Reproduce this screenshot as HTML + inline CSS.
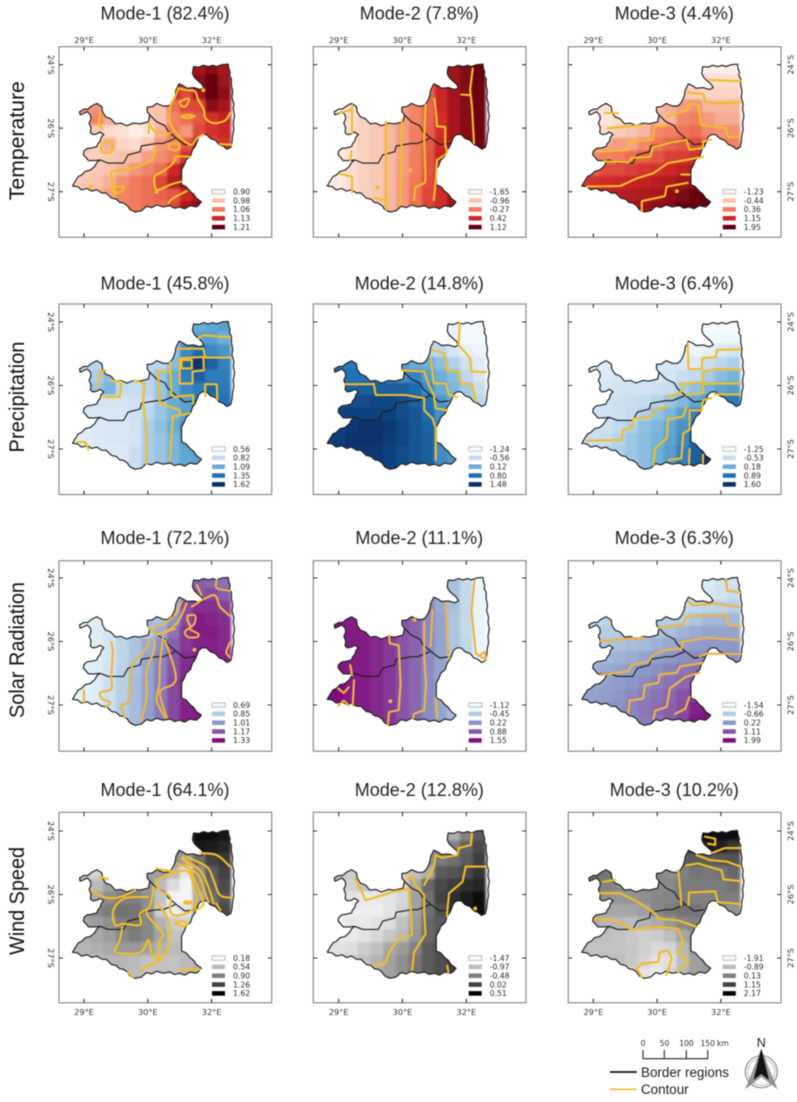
<!DOCTYPE html>
<html lang="en">
<head>
<meta charset="utf-8">
<title>EOF modes of temperature, precipitation, solar radiation and wind speed</title>
<style>
html,body{margin:0;padding:0;background:#fff;width:797px;height:1102px;overflow:hidden}
svg{display:block;filter:blur(0.4px)}
text{font-family:"Liberation Sans",sans-serif;fill:#1c1c1c}
.tick,.leg{font-family:"DejaVu Sans","Liberation Sans",sans-serif}
.tick{font-size:8.2px;fill:#333}
.leg{font-size:7.7px;fill:#2c2c2c}
.title{font-size:18px;text-anchor:middle;fill:#222}
.rowlab{font-size:21px;text-anchor:middle;fill:#111}
</style>
</head>
<body>
<svg id="chart" xmlns="http://www.w3.org/2000/svg" width="797" height="1102" viewBox="0 0 797 1102">
<defs>
<filter id="soft" x="-10%" y="-10%" width="120%" height="120%"><feGaussianBlur stdDeviation="1.3"/></filter>
</defs>
<g id="maps"></g>
<g>
<path d="M643 1050V1058.7H707.7V1050M664.3 1050V1058.7M686.3 1050V1058.7" fill="none" stroke="#222" stroke-width="1.1"/>
<text class="leg" x="643" y="1046" text-anchor="middle" style="font-size:7.6px">0</text>
<text class="leg" x="664.5" y="1046" text-anchor="middle" style="font-size:7.6px">50</text>
<text class="leg" x="686.5" y="1046" text-anchor="middle" style="font-size:7.6px">100</text>
<text class="leg" x="707.7" y="1046" text-anchor="middle" style="font-size:7.6px">150</text>
<text class="leg" x="717" y="1046" style="font-size:7.6px">km</text>
</g>
<g>
<line x1="610" x2="636.7" y1="1072" y2="1072" stroke="#111" stroke-width="1.7"/>
<text x="641" y="1077" style="font-size:13.4px" textLength="88" lengthAdjust="spacingAndGlyphs">Border  regions</text>
<line x1="610" x2="636.7" y1="1089.3" y2="1089.3" stroke="#f0bd2b" stroke-width="1.7"/>
<text x="641" y="1094" style="font-size:13.4px">Contour</text>
</g>
<g>
<circle cx="761.3" cy="1071.7" r="16" fill="none" stroke="#8a8a8a" stroke-width="1.2"/>
<circle cx="761.3" cy="1071.7" r="13.5" fill="none" stroke="#bbb" stroke-width="1"/>
<polygon points="761.3,1049 745,1089.5 761.3,1077 777.7,1089.5" fill="#777" opacity=".75"/>
<polygon points="761.3,1048.5 753.5,1080 761.3,1074 769,1080" fill="#111"/>
<text x="761.3" y="1047" text-anchor="middle" style="font-size:12.5px" fill="#111">N</text>
</g>
</svg>
<script>
/* Categories and tick labels */
const rowNames = ['Temperature', 'Precipitation', 'Solar Radiation', 'Wind Speed'];
const modeNames = ['Mode-1', 'Mode-2', 'Mode-3'];
const lonTicks = [29, 30, 31];
const lonTickLabels = ['29°E', '30°E', '32°E'];
const latTicks = [24, 25, 26];
const latTickLabels = ['24°S', '26°S', '27°S'];

/* Explained variance per mode */
const temperatureVariance = [82.4, 7.8, 4.4];
const precipitationVariance = [45.8, 14.8, 6.4];
const solarVariance = [72.1, 11.1, 6.3];
const windVariance = [64.1, 12.8, 10.2];

/* Legend class values */
const tempMode1Legend = [0.90, 0.98, 1.06, 1.13, 1.21];
const tempMode2Legend = [-1.65, -0.96, -0.27, 0.42, 1.12];
const tempMode3Legend = [-1.23, -0.44, 0.36, 1.15, 1.95];
const precMode1Legend = [0.56, 0.82, 1.09, 1.35, 1.62];
const precMode2Legend = [-1.24, -0.56, 0.12, 0.80, 1.48];
const precMode3Legend = [-1.25, -0.53, 0.18, 0.89, 1.60];
const solarMode1Legend = [0.69, 0.85, 1.01, 1.17, 1.33];
const solarMode2Legend = [-1.12, -0.45, 0.22, 0.88, 1.55];
const solarMode3Legend = [-1.54, -0.66, 0.22, 1.11, 1.99];
const windMode1Legend = [0.18, 0.54, 0.90, 1.26, 1.62];
const windMode2Legend = [-1.47, -0.97, -0.48, 0.02, 0.51];
const windMode3Legend = [-1.91, -0.89, 0.13, 1.15, 2.17];

/* Grid definition (degrees) */
const gridLonStart = 28.7;
const gridLatStart = 23.95;
const gridStep = 0.2;

/* Heatmap values: 12 latitude rows by 13 longitude columns */
const tempMode1Cells = [
[1.10,1.10,1.10,1.10,1.10,1.10,1.10,1.10,1.14,1.14,1.16,1.18,1.16],
[1.10,1.10,1.10,1.10,1.10,1.10,1.10,1.10,1.14,1.14,1.18,1.21,1.17],
[1.05,1.05,1.05,1.05,1.05,1.00,1.00,1.05,1.13,1.10,1.16,1.21,1.18],
[1.04,1.04,1.03,1.00,1.00,0.98,0.98,0.98,1.07,1.10,1.10,1.18,1.16],
[1.00,1.00,1.05,1.00,0.96,0.95,0.97,0.98,1.05,1.07,1.09,1.12,1.14],
[0.97,0.97,0.97,0.94,0.93,0.91,0.92,1.00,1.06,1.03,1.10,1.12,1.13],
[0.97,0.97,0.96,1.00,0.95,0.94,0.97,1.03,1.05,1.09,1.15,1.10,1.12],
[0.96,0.96,0.96,0.97,0.98,0.99,1.02,1.04,1.06,1.12,1.15,1.10,1.10],
[0.97,0.97,0.97,0.98,1.00,1.03,1.05,1.07,1.13,1.17,1.17,1.10,1.10],
[0.96,0.97,0.98,1.00,1.04,1.06,1.07,1.10,1.15,1.17,1.17,1.16,1.16],
[0.98,0.98,1.00,1.02,1.05,1.06,1.07,1.08,1.09,1.13,1.16,1.16,1.16],
[1.03,1.03,1.03,1.03,1.05,1.06,1.07,1.07,1.10,1.16,1.18,1.18,1.18]];
const tempMode2Cells = [
[-1.6,-1.5,-1.35,-1.15,-1.05,-0.85,-0.6,-0.35,-0.1,0.4,0.75,0.95,1.12],
[-1.6,-1.5,-1.35,-1.15,-1.05,-0.85,-0.6,-0.35,-0.1,0.4,0.75,0.95,1.12],
[-1.6,-1.5,-1.35,-1.15,-1.05,-0.85,-0.6,-0.35,-0.1,0.4,0.72,0.92,1.10],
[-1.6,-1.5,-1.35,-1.15,-1.05,-0.85,-0.6,-0.35,-0.1,0.4,0.70,0.90,1.10],
[-1.6,-1.5,-1.35,-1.15,-1.05,-0.85,-0.6,-0.35,-0.1,0.35,0.68,0.90,1.10],
[-1.6,-1.5,-1.35,-1.15,-1.05,-0.85,-0.6,-0.3,-0.05,0.35,0.68,0.88,1.08],
[-1.6,-1.5,-1.35,-1.15,-1.05,-0.85,-0.6,-0.3,0.0,0.4,0.65,0.88,1.05],
[-1.6,-1.5,-1.35,-1.15,-1.05,-0.85,-0.6,-0.3,0.05,0.45,0.7,0.88,1.05],
[-1.6,-1.5,-1.35,-1.15,-1.05,-0.85,-0.6,-0.3,0.05,0.45,0.7,0.88,1.05],
[-1.6,-1.5,-1.35,-1.15,-1.05,-0.85,-0.55,-0.25,0.1,0.45,0.7,0.88,1.05],
[-1.6,-1.5,-1.35,-1.15,-1.05,-0.85,-0.55,-0.2,0.15,0.35,0.7,0.88,1.05],
[-1.6,-1.5,-1.35,-1.15,-1.05,-0.85,-0.55,-0.2,0.15,0.35,0.72,0.88,1.05]];
const tempMode3Cells = [
[-1.2,-1.2,-1.2,-1.2,-1.2,-1.2,-1.2,-1.2,-1.2,-1.2,-1.2,-1.2,-1.2],
[-1.1,-1.1,-1.1,-1.1,-1.1,-1.1,-1.1,-1.1,-1.0,-1.0,-0.9,-0.9,-0.9],
[-1.0,-1.0,-1.0,-1.0,-1.0,-1.0,-0.8,-0.7,-0.6,-0.6,-0.7,-0.7,-0.7],
[-1.0,-1.0,-1.0,-1.0,-0.8,-0.6,-0.4,-0.2,0.0,0.1,-0.3,-0.3,-0.3],
[-1.0,-1.0,-1.0,-0.9,-0.7,-0.5,-0.3,-0.3,0.2,0.3,0.0,-0.2,-0.2],
[-0.8,-0.8,-0.8,-0.6,-0.45,-0.3,0.2,0.3,0.4,0.5,0.2,0.1,0.1],
[-0.1,-0.1,-0.1,0.0,-0.1,0.2,0.4,0.6,0.7,0.8,0.6,0.3,0.3],
[0.2,0.2,0.3,0.36,0.5,0.6,0.7,0.9,0.95,1.05,0.9,0.6,0.6],
[0.6,0.6,0.8,0.8,0.9,1.0,1.05,1.15,1.25,1.35,1.2,1.0,1.0],
[1.0,1.05,1.1,1.15,1.2,1.25,1.3,1.4,1.5,1.6,1.6,1.6,1.6],
[1.1,1.15,1.2,1.3,1.35,1.4,1.45,1.6,1.8,1.9,1.95,1.95,1.95],
[1.3,1.3,1.3,1.4,1.45,1.55,1.6,1.75,1.95,1.95,1.9,1.9,1.9]];
const precMode1Cells = [
[0.9,0.9,0.9,0.9,0.9,0.9,0.9,0.9,1.0,1.05,1.1,1.12,1.15],
[0.9,0.9,0.9,0.9,0.9,0.9,0.9,0.9,1.0,1.1,1.15,1.15,1.08],
[0.9,0.9,0.9,0.9,0.9,0.9,0.9,0.85,0.95,1.25,1.38,1.25,1.2],
[0.85,0.85,0.85,0.85,0.85,0.85,0.85,0.85,1.0,1.4,1.6,1.42,1.28],
[0.85,0.85,0.9,1.0,0.85,0.85,0.85,0.95,1.1,1.3,1.42,1.3,1.3],
[0.95,0.95,0.95,1.05,0.82,0.8,0.85,0.95,1.1,1.25,1.3,1.4,1.32],
[0.75,0.75,0.75,0.75,0.75,0.78,0.82,0.95,1.1,1.15,1.3,1.3,1.35],
[0.72,0.72,0.72,0.72,0.72,0.78,0.85,0.95,1.05,1.15,1.15,1.15,1.15],
[0.7,0.7,0.7,0.72,0.72,0.76,0.9,0.98,1.1,1.2,1.2,1.2,1.2],
[0.65,0.68,0.7,0.72,0.72,0.75,0.9,0.95,1.05,1.15,1.15,1.15,1.15],
[0.66,0.68,0.7,0.7,0.7,0.8,0.9,0.95,1.05,1.12,1.15,1.15,1.15],
[0.7,0.7,0.7,0.7,0.7,0.8,0.9,0.95,1.05,1.12,1.15,1.15,1.15]];
const precMode2Cells = [
[0.5,0.5,0.5,0.5,0.5,0.5,0.3,0.2,-0.4,-0.6,-1.05,-1.2,-1.2],
[0.6,0.6,0.6,0.6,0.6,0.6,0.3,0.2,-0.4,-0.6,-1.0,-1.2,-1.2],
[0.7,0.7,0.7,0.7,0.7,0.6,0.3,0.2,-0.5,-0.5,-0.8,-1.0,-1.1],
[0.75,0.75,0.75,0.75,0.7,0.6,0.3,0.15,0.1,-0.15,-0.4,-0.7,-0.9],
[0.8,0.8,0.8,0.8,0.8,0.6,0.5,0.6,0.3,0.1,-0.1,-0.5,-0.8],
[0.95,0.95,0.95,1.0,1.0,1.0,1.0,0.85,0.5,0.15,0.0,-0.3,-0.6],
[1.2,1.2,1.2,1.2,1.25,1.25,1.2,1.0,0.8,0.4,0.1,-0.3,-0.5],
[1.25,1.25,1.3,1.3,1.3,1.3,1.2,1.1,0.85,0.45,0.2,0.2,0.2],
[1.3,1.3,1.4,1.45,1.45,1.4,1.25,1.1,0.95,0.55,0.3,0.3,0.3],
[1.25,1.35,1.45,1.45,1.45,1.35,1.25,1.1,1.0,0.6,0.4,0.4,0.4],
[1.3,1.35,1.4,1.4,1.4,1.3,1.2,1.1,1.0,0.5,0.4,0.4,0.4],
[1.3,1.35,1.4,1.4,1.4,1.3,1.2,1.1,1.0,0.5,0.4,0.4,0.4]];
const precMode3Cells = [
[-1.25,-1.25,-1.25,-1.25,-1.25,-1.25,-1.25,-1.25,-1.25,-1.25,-1.25,-1.25,-1.25],
[-1.2,-1.2,-1.2,-1.2,-1.2,-1.2,-1.2,-1.2,-1.2,-1.2,-1.15,-1.15,-1.15],
[-1.0,-1.0,-1.0,-1.0,-1.0,-1.0,-1.0,-1.0,-1.1,-1.1,-1.0,-0.85,-0.7],
[-0.9,-0.9,-0.9,-0.9,-0.85,-0.85,-0.8,-0.8,-0.85,-0.85,-0.6,-0.45,-0.35],
[-0.85,-0.85,-0.85,-0.8,-0.8,-0.8,-0.8,-0.75,-0.6,-0.5,-0.3,-0.05,0.1],
[-0.75,-0.75,-0.75,-0.7,-0.7,-0.7,-0.65,-0.55,-0.3,-0.1,0.1,0.3,0.4],
[-0.7,-0.7,-0.7,-0.65,-0.6,-0.55,-0.4,-0.2,0.0,0.25,0.5,0.7,0.8],
[-0.7,-0.7,-0.7,-0.65,-0.55,-0.35,-0.15,0.05,0.35,0.7,0.8,0.8,0.8],
[-0.65,-0.65,-0.65,-0.5,-0.35,-0.1,0.05,0.25,0.5,0.85,0.9,0.9,0.9],
[-0.6,-0.6,-0.55,-0.4,-0.2,-0.05,0.1,0.3,0.6,1.0,1.2,1.2,1.2],
[-0.55,-0.5,-0.45,-0.35,-0.2,-0.05,0.15,0.35,0.7,1.1,1.55,1.55,1.55],
[-0.5,-0.5,-0.45,-0.35,-0.2,-0.05,0.15,0.35,0.7,1.1,1.6,1.6,1.6]];
const solarMode1Cells = [
[0.72,0.72,0.72,0.75,0.8,0.85,0.9,0.9,0.9,1.05,1.15,1.12,1.1],
[0.72,0.72,0.72,0.75,0.8,0.85,0.9,0.9,0.9,0.98,1.17,1.2,1.15],
[0.72,0.72,0.73,0.75,0.8,0.85,0.9,0.9,0.9,1.2,1.26,1.26,1.22],
[0.72,0.72,0.73,0.76,0.8,0.85,0.9,0.88,1.0,1.2,1.3,1.28,1.26],
[0.72,0.72,0.73,0.76,0.8,0.85,0.85,0.95,1.1,1.25,1.3,1.3,1.27],
[0.72,0.72,0.73,0.76,0.82,0.88,0.95,1.03,1.15,1.24,1.29,1.29,1.27],
[0.72,0.72,0.73,0.76,0.82,0.88,0.96,1.05,1.17,1.26,1.29,1.29,1.29],
[0.72,0.72,0.73,0.77,0.83,0.89,0.96,1.06,1.18,1.27,1.3,1.3,1.3],
[0.72,0.72,0.73,0.78,0.84,0.9,0.97,1.07,1.2,1.28,1.3,1.3,1.3],
[0.72,0.72,0.73,0.78,0.84,0.9,0.97,1.08,1.2,1.29,1.3,1.3,1.3],
[0.72,0.72,0.74,0.78,0.85,0.9,0.98,1.08,1.2,1.29,1.3,1.3,1.3],
[0.72,0.72,0.74,0.78,0.85,0.9,0.98,1.08,1.2,1.29,1.3,1.3,1.3]];
const solarMode2Cells = [
[1.55,1.5,1.45,1.4,1.3,1.15,0.9,0.75,0.35,0.0,-0.3,-0.65,-1.08],
[1.55,1.5,1.45,1.4,1.3,1.15,0.9,0.75,0.35,0.0,-0.3,-0.65,-1.08],
[1.55,1.5,1.45,1.4,1.3,1.15,0.9,0.75,0.35,0.0,-0.3,-0.65,-1.08],
[1.55,1.5,1.45,1.4,1.3,1.15,0.9,0.75,0.35,0.05,-0.35,-0.65,-1.05],
[1.55,1.5,1.45,1.4,1.3,1.15,0.9,0.75,0.35,0.05,-0.35,-0.65,-1.05],
[1.55,1.5,1.45,1.4,1.3,1.15,0.9,0.75,0.35,0.05,-0.35,-0.6,-1.05],
[1.55,1.5,1.45,1.4,1.3,1.15,0.9,0.72,0.35,0.05,-0.35,-0.6,-1.05],
[1.5,1.5,1.42,1.4,1.3,1.15,0.9,0.72,0.32,0.05,-0.35,-0.6,-0.9],
[1.55,1.55,1.4,1.4,1.3,1.15,0.9,0.72,0.32,0.05,-0.3,-0.5,-0.8],
[1.55,1.55,1.45,1.4,1.3,1.15,0.9,0.72,0.32,0.05,-0.3,-0.5,-0.8],
[1.55,1.55,1.45,1.4,1.3,1.15,0.9,0.72,0.32,0.05,-0.25,-0.5,-0.8],
[1.55,1.55,1.45,1.4,1.3,1.15,0.9,0.72,0.32,0.05,-0.25,-0.5,-0.8]];
const solarMode3Cells = [
[-1.1,-1.1,-1.1,-1.1,-1.1,-1.1,-1.1,-1.1,-1.1,-1.1,-1.3,-1.1,-1.1],
[-1.0,-1.0,-1.0,-1.0,-1.0,-1.0,-1.0,-1.0,-1.0,-1.0,-1.2,-1.1,-1.0],
[-0.9,-0.9,-0.9,-0.9,-0.9,-0.9,-0.9,-0.9,-0.9,-0.9,-0.85,-0.8,-0.7],
[-0.8,-0.8,-0.8,-0.8,-0.8,-0.8,-0.7,-0.7,-0.7,-0.55,-0.3,-0.3,-0.3],
[-0.75,-0.75,-0.7,-0.65,-0.6,-0.55,-0.5,-0.45,-0.25,-0.1,0.0,0.0,0.0],
[-0.55,-0.55,-0.55,-0.5,-0.4,-0.35,-0.2,-0.05,0.05,0.1,0.15,0.15,0.2],
[-0.45,-0.45,-0.35,-0.25,-0.15,0.0,0.1,0.2,0.3,0.35,0.3,0.3,0.3],
[-0.2,-0.2,-0.1,0.0,0.1,0.2,0.3,0.5,0.65,0.75,0.75,0.75,0.75],
[0.0,0.0,0.05,0.1,0.2,0.35,0.55,0.7,0.85,1.1,1.1,1.1,1.1],
[0.05,0.05,0.1,0.2,0.4,0.55,0.7,0.85,1.15,1.4,1.4,1.4,1.4],
[0.1,0.1,0.2,0.3,0.45,0.65,0.8,1.0,1.2,1.75,1.95,1.95,1.95],
[0.2,0.2,0.3,0.35,0.4,0.6,0.75,1.0,1.3,1.9,1.95,1.95,1.95]];
const windMode1Cells = [
[0.8,0.8,0.8,0.8,0.8,0.8,0.8,0.8,0.9,1.0,1.55,1.55,1.5],
[0.8,0.8,0.8,0.8,0.8,0.8,0.8,0.8,0.9,1.0,1.5,1.45,1.4],
[0.6,0.6,0.6,0.6,0.7,0.7,0.7,0.7,0.8,0.7,1.0,1.25,1.3],
[0.5,0.5,0.4,0.6,0.7,0.7,0.7,0.7,0.55,0.3,0.8,1.1,1.25],
[0.55,0.55,0.55,0.7,0.75,0.75,0.75,0.55,0.35,0.2,0.75,1.05,1.2],
[0.65,0.65,0.65,0.82,0.9,0.9,0.8,0.5,0.2,0.2,0.65,1.0,1.15],
[0.8,0.8,0.85,0.92,0.98,0.95,0.8,0.45,0.25,0.3,0.75,1.1,1.2],
[0.68,0.68,0.72,0.8,0.9,0.95,0.85,0.6,0.45,0.4,0.6,0.6,0.6],
[0.62,0.62,0.66,0.72,0.85,0.92,0.85,0.68,0.5,0.5,0.55,0.55,0.55],
[0.58,0.58,0.62,0.66,0.75,0.75,0.7,0.6,0.55,0.55,0.55,0.55,0.55],
[0.58,0.58,0.58,0.58,0.58,0.55,0.5,0.5,0.5,0.55,0.6,0.6,0.6],
[0.58,0.58,0.58,0.58,0.58,0.55,0.5,0.5,0.5,0.55,0.6,0.6,0.6]];
const windMode2Cells = [
[-1.0,-1.0,-1.0,-1.0,-1.0,-1.0,-1.0,-0.9,-0.8,-0.6,-0.85,-0.5,-0.2],
[-1.0,-1.0,-1.0,-1.0,-1.0,-1.0,-1.0,-0.9,-0.7,-0.5,-0.5,-0.25,-0.05],
[-1.0,-1.0,-1.0,-1.0,-1.0,-1.0,-1.0,-0.9,-0.6,-0.45,-0.35,-0.2,0.05],
[-1.0,-1.0,-1.1,-1.1,-1.1,-1.1,-1.1,-1.0,-0.85,-0.2,-0.15,-0.05,0.1],
[-1.0,-1.0,-1.15,-1.0,-1.1,-1.15,-1.15,-0.8,-0.3,-0.05,0.05,0.15,0.2],
[-1.3,-1.3,-1.3,-1.35,-1.35,-1.3,-1.2,-0.75,-0.35,0.0,0.15,0.3,0.4],
[-1.4,-1.4,-1.4,-1.4,-1.4,-1.3,-1.15,-0.75,-0.35,-0.1,0.1,0.35,0.45],
[-1.4,-1.4,-1.35,-1.35,-1.3,-1.25,-1.0,-0.7,-0.3,-0.2,-0.1,-0.1,-0.1],
[-1.35,-1.35,-1.35,-1.3,-1.2,-1.05,-0.95,-0.65,-0.3,-0.15,-0.1,-0.1,-0.1],
[-1.3,-1.3,-1.25,-1.1,-1.0,-0.8,-0.7,-0.5,-0.2,-0.1,-0.1,-0.1,-0.1],
[-1.2,-1.2,-1.1,-1.0,-0.9,-0.75,-0.6,-0.4,-0.2,-0.1,0.05,0.05,0.05],
[-1.2,-1.2,-1.1,-1.0,-0.9,-0.75,-0.6,-0.4,-0.2,-0.1,0.05,0.05,0.05]];
const windMode3Cells = [
[1.0,1.0,1.0,1.0,1.0,1.0,1.0,1.0,1.3,1.5,2.0,2.05,1.95],
[1.0,1.0,1.0,1.0,1.0,1.0,1.0,1.0,1.3,1.5,1.7,1.6,1.3],
[0.7,0.7,0.7,0.7,0.7,0.7,0.7,0.7,0.7,0.7,0.7,0.8,0.85],
[0.4,0.4,0.3,0.2,0.15,0.1,0.0,-0.1,0.1,0.3,0.25,0.3,0.5],
[0.15,0.15,0.1,0.0,0.0,0.0,-0.05,-0.05,0.2,0.2,0.2,0.2,0.35],
[-0.15,-0.15,-0.15,-0.25,-0.25,-0.15,0.0,0.05,0.2,0.1,0.1,0.15,0.15],
[-0.4,-0.4,-0.5,-0.55,-0.5,-0.4,0.0,0.2,0.3,0.3,0.15,-0.1,-0.2],
[-0.6,-0.6,-0.8,-0.8,-0.9,-0.75,-0.6,-0.3,0.0,0.1,0.0,0.0,0.0],
[-0.9,-0.9,-0.95,-1.0,-1.1,-1.2,-1.15,-0.9,-0.5,-0.2,-0.2,-0.2,-0.2],
[-0.9,-1.0,-1.0,-1.0,-1.05,-1.2,-1.4,-1.3,-0.8,-0.3,-0.3,-0.3,-0.3],
[-0.9,-0.9,-0.9,-0.9,-1.1,-1.3,-1.55,-1.5,-0.9,-0.4,-0.3,-0.3,-0.3],
[-1.0,-1.0,-1.0,-1.1,-1.3,-1.6,-1.7,-1.3,-0.8,-0.4,-0.3,-0.3,-0.3]];

/* Contour lines as lon/lat pairs; a single pair is an isolated contour dot */
const tempMode1Contours = [
[[30.48,24.37],[30.61,24.40],[30.74,24.42],[30.79,24.55],[30.88,24.71],[30.90,24.84],[31.03,24.92],[31.21,24.88],[31.29,24.76]],
[[30.87,24.40]],
[[30.48,24.37],[30.43,24.50],[30.35,24.66],[30.35,24.92],[30.45,25.08],[30.58,25.21],[30.69,25.26],[30.77,25.16],[30.87,25.10]],
[[30.50,24.58],[30.64,24.53],[30.60,24.65],[30.53,24.65],[30.50,24.58]],
[[30.52,24.82],[30.62,24.79],[30.74,24.81],[30.62,24.84],[30.52,24.82]],
[[30.01,25.08],[30.03,24.95],[30.11,25.05],[30.35,25.08]],
[[29.49,26.07],[29.43,25.76],[29.46,25.68],[29.77,25.63],[30.03,25.52],[30.14,25.34]],
[[30.66,25.45],[30.45,25.45],[30.40,25.55],[30.24,25.68],[30.11,25.76],[30.14,25.97],[30.35,25.89],[30.53,25.84]],
[[30.32,26.18],[30.40,26.10],[30.61,25.99]],
[[29.28,25.23],[29.43,25.23],[29.43,25.37],[29.28,25.37],[29.28,25.23]],
[[30.32,25.26],[30.48,25.24],[30.48,25.34],[30.35,25.33],[30.32,25.26]],
[[29.43,25.94],[29.62,25.92],[29.56,26.01],[29.46,26.0],[29.43,25.94]],
[[29.25,24.76],[29.24,24.95],[29.30,25.0]],
[[31.13,25.25],[31.31,25.26]],
[[29.10,25.93]],
[[30.14,26.0]]];
const tempMode2Contours = [
[[31.10,24.06],[31.06,24.40],[31.09,24.66],[31.12,25.24]],
[[30.92,24.47],[31.06,24.48]],
[[30.50,24.53],[30.53,24.79],[30.54,24.97],[30.67,24.98],[30.67,25.27],[30.70,25.37],[30.67,25.42],[30.54,25.50],[30.52,25.84],[30.49,26.13]],
[[30.36,24.63],[30.34,25.16],[30.36,25.80],[30.35,25.86],[30.20,25.93],[30.18,26.13]],
[[29.99,24.87],[29.97,26.20]],
[[29.74,24.9],[29.74,26.28]],
[[29.57,26.10],[29.74,26.13]],
[[29.21,24.63],[29.21,25.08]],
[[29.02,24.76],[29.2,24.71]],
[[29.2,25.37],[29.18,25.5]],
[[29.02,25.72],[29.21,25.76],[29.21,26.02]],
[[29.61,25.93]],
[[30.12,25.66]]];
const tempMode3Contours = [
[[30.82,24.24],[31.31,24.26]],
[[30.48,24.44],[30.72,24.46],[30.76,24.58],[30.98,24.61],[31.31,24.59]],
[[30.15,24.82],[30.48,24.71],[30.51,24.62],[30.64,24.62],[30.69,24.95],[31.08,25.00],[31.11,25.14],[31.29,25.14]],
[[29.18,24.76],[29.39,24.76]],
[[29.23,25.0],[29.78,24.95]],
[[29.05,25.37],[29.55,25.34],[29.55,25.21],[29.94,25.18],[29.96,24.97],[30.14,24.96]],
[[29.16,25.52],[29.55,25.54],[29.60,25.47],[29.89,25.45],[29.94,25.29],[30.17,25.24],[30.46,25.18],[30.51,25.34],[30.72,25.31],[30.72,25.21],[30.85,25.18]],
[[28.9,25.92],[29.42,25.91],[29.68,25.79],[29.94,25.71],[30.17,25.55],[30.46,25.5],[30.72,25.45]],
[[29.76,26.31],[29.76,26.15],[30.12,26.07],[30.15,25.92],[30.48,25.86]],
[[30.38,25.73],[30.51,25.73]],
[[30.31,25.99]]];
const precMode1Contours = [
[[30.79,24.26],[30.87,24.21],[31.29,24.24]],
[[30.48,24.42],[30.87,24.42],[30.90,24.56],[31.29,24.56]],
[[30.53,24.6],[30.69,24.6],[30.69,24.73],[30.53,24.73],[30.53,24.6]],
[[30.5,24.57],[30.87,24.55],[30.88,24.76],[30.70,24.78],[30.70,24.97],[30.5,24.97],[30.5,24.57]],
[[30.9,25.17],[30.9,24.98],[31.08,24.98],[31.09,25.22]],
[[30.35,24.63],[30.37,25.15],[30.43,25.18],[30.71,25.15],[30.71,25.28]],
[[30.14,24.78],[30.35,24.78]],
[[30.16,24.81],[30.19,25.28],[30.5,25.39],[30.5,25.47]],
[[30.35,26.18],[30.39,25.49],[30.66,25.44]],
[[29.78,24.92],[29.95,24.97],[29.93,25.26],[29.98,25.76],[29.98,26.23]],
[[29.31,25.18],[29.56,25.18],[29.59,24.94],[29.41,24.92]],
[[29.22,25.02],[29.25,24.78],[29.34,24.76]],
[[28.89,25.89],[29.02,25.89],[29.07,26.01]]];
const precMode2Contours = [
[[30.9,24.02],[30.88,24.36],[31.06,24.57],[31.08,24.78],[31.31,24.79]],
[[30.46,24.44],[30.65,24.49],[30.7,24.77],[30.88,24.78],[30.92,24.97],[31.09,24.98],[31.15,25.25]],
[[30.44,24.57],[30.49,24.97],[30.68,24.97],[30.73,25.15],[30.86,25.18]],
[[29.1,24.98],[29.55,24.98],[29.58,25.15],[30.05,25.15],[30.34,25.2],[30.34,25.39],[30.47,25.52],[30.52,25.67],[30.52,26.17]],
[[30.0,24.76],[30.34,24.78],[30.41,24.99],[30.49,25.15],[30.52,25.36],[30.7,25.39]]];
const precMode3Contours = [
[[30.48,24.34],[30.49,24.74],[30.7,24.74],[30.71,24.57],[30.92,24.55],[30.94,24.44],[31.31,24.43]],
[[30.36,24.98],[30.72,24.95],[30.72,24.79],[30.9,24.74],[31.31,24.75]],
[[30.46,25.15],[30.72,25.12],[30.72,24.98],[30.9,24.97],[31.31,24.97]],
[[30.9,25.14],[31.31,25.14]],
[[30.15,25.18],[30.36,25.12],[30.41,25.03]],
[[28.9,25.87],[29.44,25.86],[29.47,25.7],[29.6,25.67],[29.63,25.52],[29.9,25.49],[29.97,25.39],[30.15,25.33]],
[[29.94,26.25],[29.97,25.99],[30.15,25.83],[30.17,25.53],[30.41,25.49],[30.46,25.33]],
[[30.19,26.17],[30.38,26.15],[30.41,25.75],[30.51,25.7],[30.51,25.39],[30.7,25.39],[30.72,25.23],[30.85,25.2]],
[[30.5,26.23],[30.51,26.0]],
[[30.72,26.09],[30.72,26.22]]];
const solarMode1Contours = [
[[30.77,24.11],[30.84,24.27]],
[[31.08,24.03],[31.08,24.16],[31.29,24.2]],
[[30.69,24.45],[31.03,24.27],[31.13,24.45],[31.29,24.6]],
[[30.62,24.59],[30.74,24.59],[30.73,24.72],[30.66,24.8],[30.79,24.88],[30.77,24.93],[30.63,24.93],[30.58,24.85],[30.66,24.77],[30.62,24.66],[30.62,24.59]],
[[31.29,25.01],[31.23,25.17],[31.29,25.25]],
[[30.61,24.4],[30.45,24.72],[30.16,24.88],[30.0,24.77]],
[[30.53,24.37],[30.4,24.61],[30.11,24.8]],
[[30.14,24.9],[30.43,24.8]],
[[29.43,25.01],[29.45,25.19],[29.43,25.56],[29.43,25.75],[29.26,25.8],[29.28,25.9],[29.41,25.96],[29.33,26.04]],
[[30.01,24.96],[29.98,25.11],[29.77,25.35],[29.72,25.67],[29.69,25.96],[29.59,26.01],[29.64,26.2]],
[[30.11,24.98],[30.09,25.17],[29.98,25.46],[29.98,25.88],[29.9,26.25]],
[[30.24,24.93],[30.19,25.35],[30.18,25.67],[30.14,25.93],[30.27,26.2]],
[[30.27,24.98],[30.43,25.48],[30.4,25.67],[30.19,25.8],[30.3,26.2]],
[[29.0,25.77],[29.0,25.97]],
[[30.73,25.13]]];
const solarMode2Contours = [
[[31.13,24.04],[31.08,24.51],[31.15,25.19],[31.31,25.29]],
[[31.19,25.23],[31.29,25.16],[31.31,25.29]],
[[30.68,24.4],[30.7,24.87],[30.73,25.27]],
[[30.47,24.51],[30.44,25.08]],
[[30.34,24.69],[30.34,25.24],[30.37,25.66],[30.34,26.08],[30.18,26.14],[30.16,26.22]],
[[30.52,25.9],[30.54,26.19]],
[[29.79,24.9],[29.8,25.03],[29.94,25.06],[29.97,25.66],[29.94,26.08],[29.79,26.11],[29.77,26.32]],
[[29.18,25.37],[29.21,25.53]],
[[29.24,25.61],[29.22,26.01]],
[[28.99,25.74],[29.08,25.81],[29.16,25.72]],
[[28.99,26.01],[29.08,25.93],[29.16,26.01]],
[[29.81,25.94]],
[[30.19,24.66]]];
const solarMode3Contours = [
[[31.08,24.03],[31.1,24.2],[31.31,24.23]],
[[30.49,24.37],[30.57,24.43],[30.91,24.4],[31.31,24.46]],
[[30.02,24.79],[30.41,24.73],[30.46,24.61],[31.09,24.58],[31.11,24.74],[31.31,24.76]],
[[30.36,25.01],[30.8,24.94],[31.31,24.98]],
[[30.67,25.24],[30.78,25.19],[31.31,25.2]],
[[29.1,24.99],[29.78,24.94]],
[[29.1,25.53],[29.55,25.47],[29.6,25.37],[29.86,25.32],[29.94,25.21],[30.15,25.13],[30.38,25.11],[30.41,25.03]],
[[29.55,26.12],[29.57,25.93],[29.78,25.9],[29.81,25.69],[30.02,25.65],[30.04,25.52],[30.31,25.49],[30.36,25.39],[30.72,25.34]],
[[29.94,26.22],[29.97,26.09],[30.15,26.03],[30.2,25.74],[30.44,25.56],[30.67,25.49]],
[[30.28,26.14],[30.44,26.06],[30.51,25.87]]];
const windMode1Contours = [
[[30.82,24.35],[31.08,24.38],[31.29,24.56]],
[[30.61,24.41],[30.92,24.56],[31.03,24.77],[31.13,25.01],[31.31,25.05]],
[[30.53,24.43],[30.82,24.62],[30.95,24.88],[31.03,25.14]],
[[30.45,24.51],[30.77,24.67],[30.9,24.98],[30.95,25.12]],
[[30.56,24.41],[30.71,24.72],[30.84,25.04],[30.87,25.17],[30.74,25.25]],
[[30.4,24.67],[30.16,24.77],[30.16,24.91],[30.35,25.04],[30.35,25.25],[30.43,25.33],[30.66,25.27],[30.77,25.09],[30.71,24.83],[30.66,24.67],[30.56,24.62],[30.4,24.67]],
[[30.58,25.11],[30.67,25.11],[30.67,25.14],[30.58,25.14],[30.58,25.11]],
[[30.43,25.45],[30.54,25.42],[30.63,25.47],[30.54,25.5],[30.43,25.45]],
[[30.01,25.04],[29.64,25.06],[29.46,25.25],[29.49,25.48],[29.62,25.46],[29.88,25.48],[29.88,25.3],[30.03,25.19],[30.09,24.88]],
[[29.6,25.51],[29.56,25.72],[29.5,25.91],[29.88,25.91],[30.01,25.72],[30.06,25.93],[30.16,26.01],[30.19,25.72],[30.24,25.62],[30.01,25.35],[29.98,25.25]],
[[29.93,26.22],[29.96,26.14],[30.16,26.06],[30.3,25.88],[30.35,25.62],[30.3,25.35],[30.14,25.14]],
[[30.5,26.18],[30.82,26.18]],
[[29.12,24.93],[29.3,25.04],[29.57,25.04],[29.8,24.93]],
[[29.25,24.72],[29.38,24.76]],
[[30.14,24.59],[30.4,24.64]],
[[29.69,26.22],[29.77,26.31]],
[[31.07,25.14],[31.14,25.25]]];
const windMode2Contours = [
[[31.09,24.04],[31.07,24.22],[30.88,24.27],[30.86,24.38],[30.62,24.42],[30.52,24.38],[30.49,24.56],[30.34,24.85]],
[[30.05,24.77],[30.15,24.71],[30.2,24.85],[30.34,25.01],[30.34,25.27],[30.36,25.62],[30.18,25.91],[30.15,26.19]],
[[31.31,24.56],[30.99,24.56],[30.94,24.8],[30.73,24.98],[30.7,25.27],[30.7,25.35]],
[[29.26,24.75],[29.37,24.98],[29.42,25.09],[29.89,24.95],[30.1,24.91]],
[[30.1,24.91],[30.13,25.22],[30.15,25.64],[29.94,25.69],[29.79,25.91],[29.73,26.09],[29.55,26.12]],
[[30.7,26.12],[30.72,26.22]],
[[31.14,25.22]]];
const windMode3Contours = [
[[30.75,24.09],[30.91,24.12],[30.91,24.22],[30.8,24.2]],
[[30.85,24.35],[31.06,24.27],[31.31,24.27]],
[[30.62,24.38],[30.83,24.46],[31.09,24.48],[31.31,24.56]],
[[30.46,24.54],[30.64,24.51],[31.01,24.62],[31.04,24.76],[31.31,24.79]],
[[30.33,24.62],[30.36,24.91],[30.38,25.17]],
[[30.49,25.17],[30.5,24.97],[30.91,24.95],[30.95,25.12],[31.31,25.15]],
[[29.1,24.98],[29.42,24.98],[29.65,25.09],[29.78,25.17],[29.97,25.3],[30.02,25.38],[30.33,25.41],[30.62,25.51]],
[[29.03,25.38],[29.34,25.41],[29.55,25.51],[29.57,25.55],[30.07,25.51],[30.33,25.54],[30.41,25.75],[30.33,25.91],[30.49,26.06],[30.33,26.22]],
[[29.68,26.17],[29.76,26.09],[30.02,26.06],[30.04,25.91],[30.17,25.88],[30.23,26.01],[30.15,26.27]],
[[29.68,26.17],[29.76,26.3]],
[[29.16,24.8],[29.34,24.77]]];

/* Region geometry in lon/lat */
const regionOutline = [[30.71,24.06],[30.72,24.03],[30.80,24.04],[30.87,24.01],[30.95,24.03],[31.02,24.01],[31.08,24.03],[31.16,24.00],[31.26,23.99],[31.27,24.06],[31.29,24.12],[31.28,24.17],[31.31,24.22],[31.31,24.32],[31.33,24.42],[31.32,24.52],[31.35,24.62],[31.34,24.70],[31.36,24.80],[31.34,24.92],[31.35,25.02],[31.33,25.10],[31.32,25.22],[31.30,25.30],[31.24,25.33],[31.18,25.28],[31.12,25.26],[31.06,25.19],[30.98,25.16],[30.92,25.10],[30.85,25.10],[30.80,25.14],[30.77,25.22],[30.74,25.29],[30.70,25.34],[30.67,25.44],[30.60,25.50],[30.57,25.58],[30.53,25.65],[30.53,25.78],[30.53,25.89],[30.60,25.92],[30.66,25.99],[30.72,26.04],[30.76,26.10],[30.84,26.16],[30.80,26.21],[30.76,26.24],[30.66,26.22],[30.58,26.27],[30.50,26.24],[30.42,26.26],[30.35,26.22],[30.24,26.24],[30.14,26.21],[30.06,26.25],[29.98,26.23],[29.90,26.30],[29.80,26.32],[29.72,26.28],[29.68,26.22],[29.62,26.18],[29.56,26.17],[29.51,26.12],[29.43,26.10],[29.35,26.02],[29.28,26.02],[29.20,25.97],[29.12,25.99],[29.05,25.95],[28.96,25.97],[28.90,25.92],[28.82,25.91],[28.86,25.84],[28.91,25.76],[28.96,25.74],[29.02,25.68],[29.10,25.66],[29.17,25.60],[29.20,25.54],[29.25,25.50],[29.17,25.51],[29.07,25.51],[29.03,25.46],[28.99,25.42],[29.00,25.36],[29.05,25.32],[29.12,25.31],[29.20,25.29],[29.22,25.24],[29.25,25.21],[29.27,25.14],[29.31,25.10],[29.25,25.06],[29.20,25.09],[29.14,25.10],[29.10,25.07],[29.11,24.99],[29.08,24.92],[29.11,24.85],[29.10,24.79],[29.05,24.74],[28.99,24.77],[28.94,24.79],[28.93,24.74],[29.00,24.70],[29.06,24.70],[29.12,24.65],[29.20,24.61],[29.28,24.66],[29.29,24.74],[29.34,24.82],[29.42,24.85],[29.49,24.93],[29.58,24.92],[29.67,24.96],[29.78,24.92],[29.88,24.93],[30.01,24.90],[30.03,24.79],[29.99,24.74],[29.99,24.67],[30.07,24.66],[30.14,24.61],[30.24,24.65],[30.32,24.65],[30.36,24.62],[30.40,24.56],[30.43,24.48],[30.44,24.40],[30.49,24.30],[30.57,24.34],[30.61,24.37],[30.72,24.36],[30.82,24.39],[30.88,24.36],[30.84,24.30],[30.77,24.24],[30.73,24.20],[30.70,24.14]];
const borderEast = [[30.03,24.79],[30.14,24.9],[30.27,24.96],[30.32,25.05],[30.45,25.16],[30.58,25.26],[30.74,25.24]];
const borderSouth = [[29.25,25.50],[29.38,25.55],[29.62,25.55],[29.69,25.42],[29.88,25.37],[29.9,25.28],[30.14,25.24],[30.24,25.24],[30.43,25.16]];

/* Colour ramps */
const redRamp = ['#fff3ee', '#f8c3ad', '#f17b5c', '#cd2626', '#67000d'];
const blueRamp = ['#f7fbff', '#c6dbef', '#6baed6', '#2171b5', '#08306b'];
const purpleRamp = ['#edf8fb', '#b3cde3', '#8c96c6', '#8856a7', '#810f7c'];
const greyRamp = ['#f7f7f7', '#bdbdbd', '#7f7f7f', '#404040', '#000000'];

const rowRamps = [redRamp, blueRamp, purpleRamp, greyRamp];
const rowVariance = [temperatureVariance, precipitationVariance, solarVariance, windVariance];
const rowCells = [
  [tempMode1Cells, tempMode2Cells, tempMode3Cells],
  [precMode1Cells, precMode2Cells, precMode3Cells],
  [solarMode1Cells, solarMode2Cells, solarMode3Cells],
  [windMode1Cells, windMode2Cells, windMode3Cells]
];
const rowContours = [
  [tempMode1Contours, tempMode2Contours, tempMode3Contours],
  [precMode1Contours, precMode2Contours, precMode3Contours],
  [solarMode1Contours, solarMode2Contours, solarMode3Contours],
  [windMode1Contours, windMode2Contours, windMode3Contours]
];
const rowLegends = [
  [tempMode1Legend, tempMode2Legend, tempMode3Legend],
  [precMode1Legend, precMode2Legend, precMode3Legend],
  [solarMode1Legend, solarMode2Legend, solarMode3Legend],
  [windMode1Legend, windMode2Legend, windMode3Legend]
];

(function () {
  const NS = 'http://www.w3.org/2000/svg';
  const root = document.getElementById('maps');
  const frameLeft = [59, 313.3, 568.3];
  const frameTop = [46.7, 304, 560.7, 812.3];
  const frameW = 212.7, frameH = 190.5;
  const lon0 = [84, 338.7, 593.3];
  const lat0 = [64.7, 322, 578, 831];
  const degX = 63.8, degY = 63.5;
  const titleX = [165, 419.3, 674.3];
  const titleY = [19.3, 289.3, 544, 796];
  const rowLabelY = [140.7, 397, 650, 901];
  const rowLabelLen = [119, 111, 136, 108];
  const legendX = [128, 130, 129.5];

  function node(parent, tag, attrs, txt) {
    const el = document.createElementNS(NS, tag);
    for (const k in attrs) el.setAttribute(k, attrs[k]);
    if (txt !== undefined) el.textContent = txt;
    parent.appendChild(el);
    return el;
  }
  function xScale(c, lon) { return lon0[c] + (lon - 29) * degX; }
  function yScale(r, lat) { return lat0[r] + (lat - 24) * degY; }
  function pathOf(c, r, pts, close) {
    return pts.map((p, i) => (i ? 'L' : 'M') + xScale(c, p[0]).toFixed(1) + ' ' + yScale(r, p[1]).toFixed(1)).join('') + (close ? 'Z' : '');
  }
  function smoothPath(c, r, pts) {
    const q = pts.map(p => [xScale(c, p[0]), yScale(r, p[1])]);
    let d = 'M' + q[0][0].toFixed(1) + ' ' + q[0][1].toFixed(1);
    for (let i = 0; i < q.length - 1; i++) {
      const a = q[Math.max(i - 1, 0)], b = q[i], e = q[i + 1], f = q[Math.min(i + 2, q.length - 1)];
      d += 'C' + (b[0] + (e[0] - a[0]) / 6).toFixed(1) + ' ' + (b[1] + (e[1] - a[1]) / 6).toFixed(1) + ' ' +
        (e[0] - (f[0] - b[0]) / 6).toFixed(1) + ' ' + (e[1] - (f[1] - b[1]) / 6).toFixed(1) + ' ' +
        e[0].toFixed(1) + ' ' + e[1].toFixed(1);
    }
    return d;
  }
  function hex(s) { return [1, 3, 5].map(i => parseInt(s.substr(i, 2), 16)); }
  function colorOf(v, legend, ramp) {
    if (v <= legend[0]) return ramp[0];
    for (let i = 1; i < legend.length; i++) {
      if (v <= legend[i]) {
        const t = (v - legend[i - 1]) / (legend[i] - legend[i - 1]);
        const a = hex(ramp[i - 1]), b = hex(ramp[i]);
        return 'rgb(' + a.map((q, k) => Math.round(q + (b[k] - q) * t)).join(',') + ')';
      }
    }
    return ramp[ramp.length - 1];
  }

  rowNames.forEach((name, r) => {
    const lab = node(root, 'text', {
      class: 'rowlab',
      x: 24,
      y: rowLabelY[r],
      transform: 'rotate(-90 24 ' + rowLabelY[r] + ')',
      textLength: rowLabelLen[r],
      lengthAdjust: 'spacingAndGlyphs'
    }, name);
    
    

    modeNames.forEach((mode, c) => {
      const panel = node(root, 'g', {});
      
      

      const title = node(panel, 'text', { class: 'title', x: titleX[c], y: titleY[r] },
        mode + ' (' + rowVariance[r][c].toFixed(1) + '%)');
      
      

      const frame = node(panel, 'rect', {
        x: frameLeft[c], y: frameTop[r], width: frameW, height: frameH,
        fill: '#fff', stroke: '#8a8a8a', 'stroke-width': 1.2
      });
      
      

      lonTicks.forEach((lon, i) => {
        const x = xScale(c, lon);
        const tick = node(panel, 'path', {
          d: 'M' + x + ' ' + frameTop[r] + 'v4M' + x + ' ' + (frameTop[r] + frameH) + 'v-4',
          stroke: '#333', 'stroke-width': 1.1, fill: 'none'
        });
        
        
        if (r === 0 || r === 3) {
          const ly = r === 0 ? frameTop[r] - 3.8 : frameTop[r] + frameH + 12;
          const t = node(panel, 'text', { class: 'tick', x: x, y: ly, 'text-anchor': 'middle' }, lonTickLabels[i]);
          
          
        }
      });
      latTicks.forEach((lat, i) => {
        const y = yScale(r, lat);
        const tick = node(panel, 'path', {
          d: 'M' + frameLeft[c] + ' ' + y + 'h4M' + (frameLeft[c] + frameW) + ' ' + y + 'h-4',
          stroke: '#333', 'stroke-width': 1.1, fill: 'none'
        });
        
        
        if (c === 0 || c === 2) {
          const lx = c === 0 ? 48 : 793.5;
          const rot = c === 0 ? 90 : -90;
          const t = node(panel, 'text', {
            class: 'tick', x: lx, y: y, 'text-anchor': 'middle',
            transform: 'rotate(' + rot + ' ' + lx + ' ' + y + ')'
          }, latTickLabels[i]);
          
          
        }
      });

      const legend = rowLegends[r][c];
      const ramp = rowRamps[r];
      const clipId = 'clip-' + r + '-' + c;
      const defs = node(panel, 'defs', {});
      const clip = node(defs, 'clipPath', { id: clipId });
      node(clip, 'path', { d: pathOf(c, r, regionOutline, true) });

      const clipped = node(panel, 'g', { 'clip-path': 'url(#' + clipId + ')' });
      const heat = node(clipped, 'g', { filter: 'url(#soft)' });
      
      
      rowCells[r][c].forEach((cells, i) => {
        cells.forEach((v, j) => {
          const lonA = gridLonStart + j * gridStep, latA = gridLatStart + i * gridStep;
          const cell = node(heat, 'rect', {
            x: xScale(c, lonA).toFixed(2),
            y: yScale(r, latA).toFixed(2),
            width: (gridStep * degX + 0.4).toFixed(2),
            height: (gridStep * degY + 0.4).toFixed(2),
            fill: colorOf(v, legend, ramp)
          });
          
          
        });
      });

      const edge = node(panel, 'path', {
        d: pathOf(c, r, regionOutline, true) + pathOf(c, r, borderEast) + pathOf(c, r, borderSouth),
        fill: 'none', stroke: '#1e1e1e', 'stroke-width': 1.15, 'stroke-linejoin': 'round'
      });
      
      

      const lineColor = r === 2 ? '#efb445' : '#f2bd28';
      rowContours[r][c].forEach(pts => {
        if (pts.length === 1) {
          const dot = node(panel, 'circle', {
            cx: xScale(c, pts[0][0]).toFixed(1), cy: yScale(r, pts[0][1]).toFixed(1), r: 2, fill: lineColor
          });
          
          
        } else {
          const line = node(panel, 'path', {
            d: c === 0 && r !== 1 ? smoothPath(c, r, pts) : pathOf(c, r, pts),
            fill: 'none', stroke: lineColor,
            'stroke-width': 2.1, 'stroke-linejoin': 'round', 'stroke-linecap': 'round'
          });
          
          
        }
      });

      legend.forEach((v, i) => {
        const y = yScale(r, 26) + i * 8.85;
        const sx = lon0[c] + legendX[c];
        const sw = node(panel, 'rect', {
          x: sx, y: y - 2.3, width: 13, height: 4.6,
          fill: ramp[i], stroke: i === 0 ? '#8a8a8a' : 'none', 'stroke-width': 0.5
        });
        
        
        const lt = node(panel, 'text', { class: 'leg', x: sx + 21, y: y + 2.8 }, v.toFixed(2));
        
        
      });
    });
  });
})();
</script>
</body>
</html>
